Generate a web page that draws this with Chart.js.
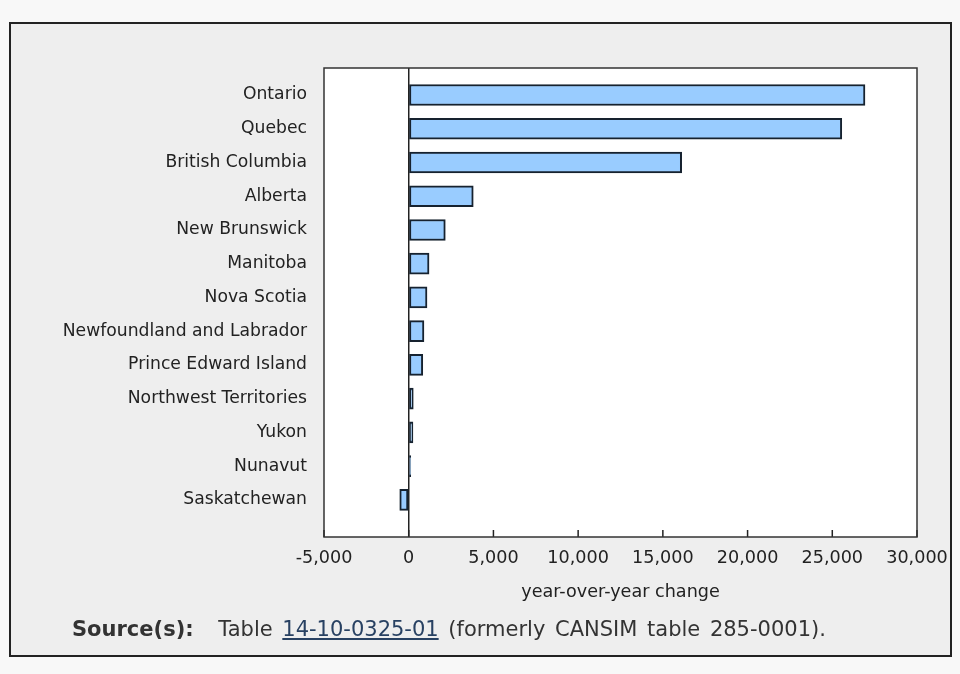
<!DOCTYPE html>
<html>
<head>
<meta charset="utf-8">
<script src="https://cdn.jsdelivr.net/npm/chart.js@4"></script>
<style>
  html, body { margin: 0; padding: 0; background: #f8f8f8; width: 960px; height: 674px; overflow: hidden; }
  #panel { position: absolute; left: 9px; top: 22px; width: 939px; height: 631px; background: #eeeeee; border: 2px solid #222; }
  #chartCanvas { position: absolute; left: 0; top: 0; }
  #source { position: absolute; left: 72px; top: 616px; font-family: "DejaVu Sans", sans-serif; font-size: 21px; color: #333; white-space: nowrap; line-height: 26px; word-spacing: 3px; }
  #source b { margin-right: 15px; }
  #source a { color: #284162; text-decoration: underline; }
</style>
</head>
<body>
<div id="panel"></div>
<canvas id="chartCanvas" width="960" height="674"></canvas>
<div id="source"><b>Source(s):</b> Table <a href="#">14-10-0325-01</a> (formerly CANSIM table 285-0001).</div>
<script>
// provinces, top to bottom
var provinces = [
  "Ontario",
  "Quebec",
  "British Columbia",
  "Alberta",
  "New Brunswick",
  "Manitoba",
  "Nova Scotia",
  "Newfoundland and Labrador",
  "Prince Edward Island",
  "Northwest Territories",
  "Yukon",
  "Nunavut",
  "Saskatchewan",
];
// year-over-year change
var changes = [26930, 25560, 16110, 3810, 2160, 1200, 1080, 900, 830, 270, 250, 120, -530];
var xTicks = [-5000, 0, 5000, 10000, 15000, 20000, 25000, 30000];

// white plot area with border, small tick marks inside
var plotBox = {
  id: "plotBox",
  beforeDraw: function (chart) {
    var a = chart.chartArea, c = chart.ctx;
    c.save();
    c.fillStyle = "#ffffff";
    c.fillRect(a.left, a.top, a.right - a.left, a.bottom - a.top);
    c.restore();
  },
  afterDraw: function (chart) {
    var a = chart.chartArea, c = chart.ctx, x = chart.scales.x;
    c.save();
    c.strokeStyle = "#222";
    c.lineWidth = 1.5;
    xTicks.forEach(function (t) {
      var px = x.getPixelForValue(t);
      c.beginPath();
      c.moveTo(px, a.bottom);
      c.lineTo(px, a.bottom - 7);
      c.stroke();
    });
    c.strokeStyle = "#333";
    c.strokeRect(a.left, a.top, a.right - a.left, a.bottom - a.top);
    c.restore();
  },
};

var ctx = document.getElementById("chartCanvas").getContext("2d");
var chart = new Chart(ctx, {
  type: "bar",
  data: {
    datasets: [
      {
        label: "year-over-year change",
        data: changes.map(function (v, i) { return { x: v, y: i }; }),
        backgroundColor: "#99ccff",
        borderColor: "#16222f",
        borderWidth: 2,
        borderSkipped: false,
        barThickness: 21,
      },
    ],
  },
  options: {
    indexAxis: "y",
    responsive: false,
    animation: false,
    layout: { padding: { top: 68, right: 43, left: 0, bottom: 0 } },
    plugins: { legend: { display: false }, tooltip: { enabled: false } },
    scales: {
      y: {
        type: "linear",
        reverse: true,
        offset: false,
        min: -0.8,
        max: 13.1,
        afterFit: function (s) { s.width = 324; },
        afterBuildTicks: function (s) {
          s.ticks = provinces.map(function (p, i) { return { value: i }; });
        },
        grid: { display: false, drawTicks: false, offset: false },
        border: { display: false },
        ticks: {
          autoSkip: false,
          padding: 17,
          color: "#222",
          font: { family: "DejaVu Sans", size: 17.2 },
          callback: function (v) { return provinces[v]; },
        },
      },
      x: {
        min: -5000,
        max: 30000,
        afterFit: function (s) { s.height = 137; },
        afterBuildTicks: function (s) {
          s.ticks = xTicks.map(function (t) { return { value: t }; });
        },
        grid: {
          drawTicks: false,
          lineWidth: 1.5,
          color: function (c) { return c.tick && c.tick.value === 0 ? "#222" : "rgba(0,0,0,0)"; },
        },
        border: { display: false },
        ticks: {
          padding: 11,
          color: "#222",
          font: { family: "DejaVu Sans", size: 17.6 },
          callback: function (v) { return v.toLocaleString("en-US"); },
        },
        title: {
          display: true,
          text: "year-over-year change",
          color: "#222",
          font: { family: "DejaVu Sans", size: 17.6 },
          padding: { top: 0, bottom: 71 },
        },
      },
    },
  },
  plugins: [plotBox],
});
</script>
</body>
</html>
